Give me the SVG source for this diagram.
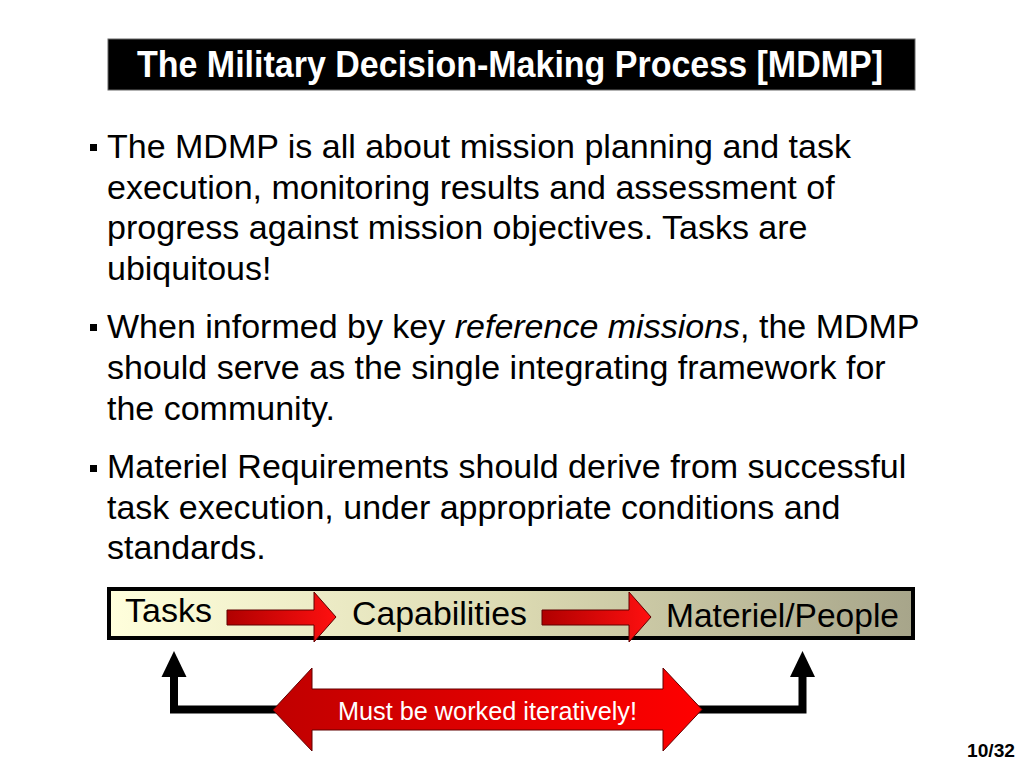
<svg xmlns="http://www.w3.org/2000/svg" width="1024" height="768" viewBox="0 0 1024 768">
<style>
.body{font-family:"Liberation Sans",Arial,sans-serif;font-size:34px;fill:#000}
.lbl{font-family:"Liberation Sans",Arial,sans-serif;font-size:34px;fill:#000}
.title{font-family:"Liberation Sans",Arial,sans-serif;font-size:36px;font-weight:bold;fill:#fff}
.redarrow{stroke:#600000;stroke-width:1}
.blk{fill:none;stroke:#000;stroke-width:8;stroke-linejoin:miter}
</style>
<defs>
<linearGradient id="barGrad" x1="0" y1="0" x2="1" y2="0">
<stop offset="0" stop-color="#FFFFDC"/>
<stop offset="0.5" stop-color="#DCDAB2"/>
<stop offset="1" stop-color="#A7A58A"/>
</linearGradient>
<linearGradient id="smallRed" x1="0" y1="0" x2="1" y2="0">
<stop offset="0" stop-color="#B00000"/>
<stop offset="1" stop-color="#FF1010"/>
</linearGradient>
<linearGradient id="bigRed" x1="0" y1="0" x2="1" y2="0">
<stop offset="0" stop-color="#C00000"/>
<stop offset="1" stop-color="#FF0000"/>
</linearGradient>
</defs>
<rect width="1024" height="768" fill="#fff"/>

<g id="title">
<rect x="108" y="39" width="807" height="51" fill="#000" stroke="#666" stroke-width="1"/>
<text class="title" x="137" y="77" textLength="746" lengthAdjust="spacingAndGlyphs">The Military Decision-Making Process [MDMP]</text>
</g>

<g id="bullets">
<rect x="90" y="144" width="7" height="7" fill="#000"/>
<text class="body" x="107" y="158">The MDMP is all about mission planning and task</text>
<text class="body" x="107" y="199">execution, monitoring results and assessment of</text>
<text class="body" x="107" y="239">progress against mission objectives. Tasks are</text>
<text class="body" x="107" y="280">ubiquitous!</text>
<rect x="90" y="324" width="7" height="7" fill="#000"/>
<text class="body" x="107" y="338">When informed by key <tspan font-style="italic">reference missions</tspan>, the MDMP</text>
<text class="body" x="107" y="379">should serve as the single integrating framework for</text>
<text class="body" x="107" y="420">the community.</text>
<rect x="90" y="465" width="7" height="7" fill="#000"/>
<text class="body" x="107" y="478">Materiel Requirements should derive from successful</text>
<text class="body" x="107" y="519">task execution, under appropriate conditions and</text>
<text class="body" x="107" y="559">standards.</text>
</g>

<g id="bar">
<rect x="109" y="589" width="804" height="49" fill="url(#barGrad)" stroke="#000" stroke-width="4"/>
</g>
<g id="node-tasks">
<text class="lbl" x="125" y="622" textLength="87" lengthAdjust="spacingAndGlyphs">Tasks</text>
</g>
<g id="node-capabilities">
<text class="lbl" x="352" y="625" textLength="175" lengthAdjust="spacingAndGlyphs">Capabilities</text>
</g>
<g id="node-materiel">
<text class="lbl" x="666" y="627" textLength="233" lengthAdjust="spacingAndGlyphs">Materiel/People</text>
</g>

<g id="connectors">
<path class="redarrow" d="M227,610 L314,610 L314,592 L336,617 L314,642 L314,625 L227,625 Z" fill="url(#smallRed)"/>
<path class="redarrow" d="M542,610 L629,610 L629,592 L651,617 L629,642 L629,625 L542,625 Z" fill="url(#smallRed)"/>
<polyline class="blk" points="280,709.5 174,709.5 174,675"/>
<polygon points="161.5,677 174,651 186.5,677" fill="#000"/>
<polyline class="blk" points="695,709.5 802.5,709.5 802.5,675"/>
<polygon points="790,677 802.5,651 815,677" fill="#000"/>
</g>

<g id="node-iterative">
<path class="redarrow" d="M273,710 L312,668 L312,689 L663,689 L663,668 L702,709.5 L663,751 L663,730 L312,730 L312,751 Z" fill="url(#bigRed)"/>
<text x="338" y="719.5" font-family="Liberation Sans, Arial, sans-serif" font-size="25" fill="#fff" textLength="299" lengthAdjust="spacingAndGlyphs">Must be worked iteratively!</text>
</g>

<g id="pagenum">
<text x="967" y="757" font-family="Liberation Sans, Arial, sans-serif" font-size="18" font-weight="bold" fill="#000" textLength="48" lengthAdjust="spacingAndGlyphs">10/32</text>
</g>
</svg>
